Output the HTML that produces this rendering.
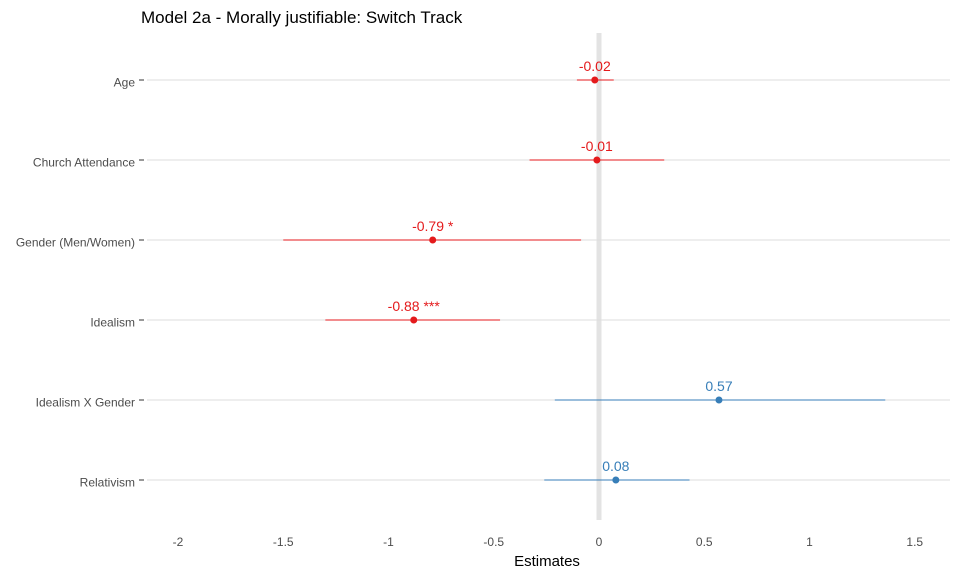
<!DOCTYPE html>
<html><head><meta charset="utf-8"><style>
body{margin:0;background:#fff;}
svg{font-family:"Liberation Sans",sans-serif;}
</style></head><body>
<svg width="960" height="576" id="chart"></svg>
<script>
const terms=["Age","Church Attendance","Gender (Men/Women)","Idealism","Idealism X Gender","Relativism"];
const estimates=[-0.02,-0.01,-0.79,-0.88,0.57,0.08];
const lowers=[-0.105,-0.33,-1.5,-1.30,-0.21,-0.26];
const uppers=[0.07,0.31,-0.085,-0.47,1.36,0.43];
const labels=["-0.02","-0.01","-0.79 *","-0.88 ***","0.57","0.08"];
const xTicks=[-2,-1.5,-1,-0.5,0,0.5,1,1.5];
const xTickLabels=["-2","-1.5","-1","-0.5","0","0.5","1","1.5"];

const NS="http://www.w3.org/2000/svg";
const svg=document.getElementById('chart');
const x=v=>599+v*210.5;
const y=i=>80+i*80;
function mk(tag,attrs,parent){const e=document.createElementNS(NS,tag);for(const k in attrs)e.setAttribute(k,attrs[k]);(parent||svg).appendChild(e);return e;}

const t=mk('text',{x:141,y:23,'font-size':17,fill:'#000'});t.textContent="Model 2a - Morally justifiable: Switch Track";



const zl=mk('line',{x1:x(0),x2:x(0),y1:33,y2:520,stroke:'#e3e3e3','stroke-width':5});



terms.forEach((name,i)=>{
  const g=mk('line',{x1:147,x2:950,y1:y(i),y2:y(i),stroke:'#dedede','stroke-width':1});
  
  
  const tk=mk('line',{x1:139,x2:144,y1:y(i),y2:y(i),stroke:'#333'});
  
  
  const lb=mk('text',{x:135,y:y(i)+6.5,'font-size':12,fill:'#4d4d4d','text-anchor':'end'});lb.textContent=name;
  
  
});

terms.forEach((name,i)=>{
  const col=estimates[i]<0?'#e41a1c':'#377eb8';
  const ci=mk('line',{x1:x(lowers[i]),x2:x(uppers[i]),y1:y(i),y2:y(i),stroke:col,'stroke-width':1});
  
  
  const pt=mk('circle',{cx:x(estimates[i]),cy:y(i),r:3.5,fill:col});
  
  
  const vl=mk('text',{x:x(estimates[i]),y:y(i)-9,'font-size':14,fill:col,'text-anchor':'middle'});vl.textContent=labels[i];
  
  
});

xTicks.forEach((v,i)=>{
  const tl=mk('text',{x:x(v),y:546,'font-size':12,fill:'#4d4d4d','text-anchor':'middle'});tl.textContent=xTickLabels[i];
  
  
});
const xt=mk('text',{x:547,y:566,'font-size':15,fill:'#000','text-anchor':'middle'});xt.textContent="Estimates";


</script>
</body></html>
